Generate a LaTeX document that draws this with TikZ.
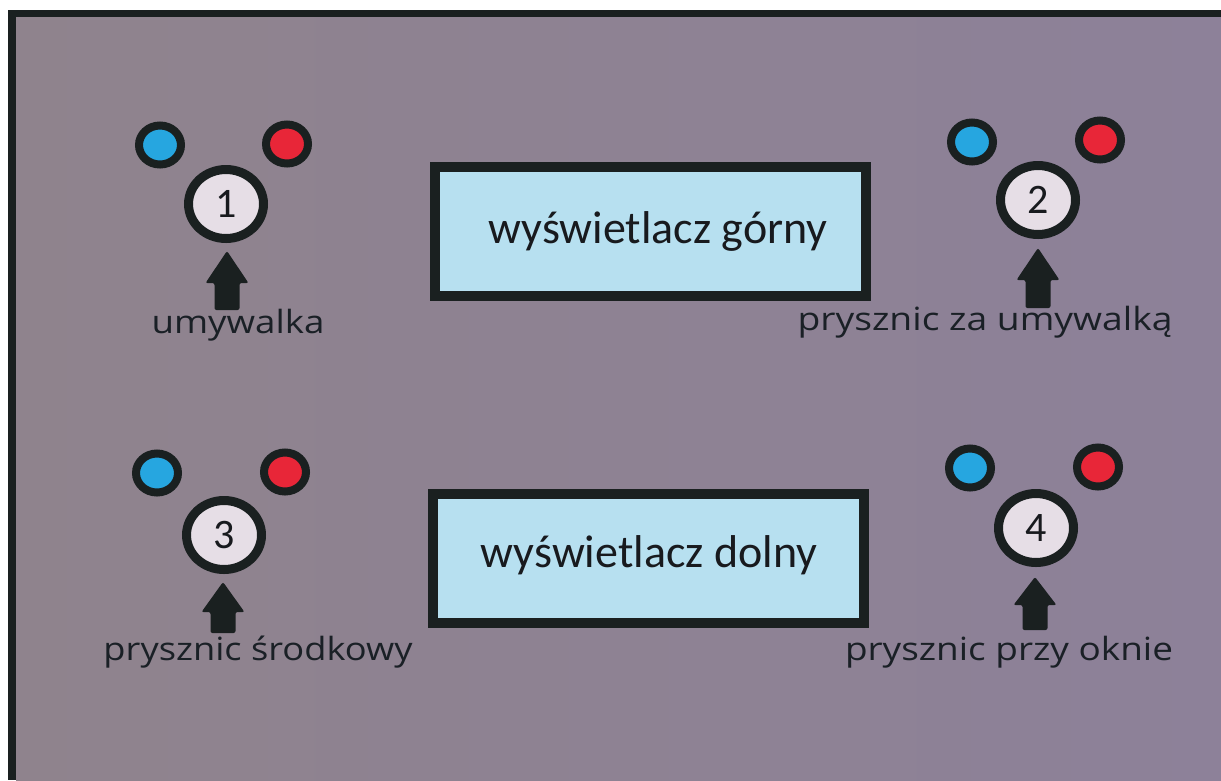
\documentclass[tikz,border=0pt]{standalone}
\usepackage{fontspec}
\usepackage{graphicx}
\setmainfont{Carlito}
\newfontfamily\labfont{Open Sans}
\usetikzlibrary{shapes.geometric}
\definecolor{bgleft}{RGB}{143,131,141}
\definecolor{bgmid}{RGB}{139,132,152}
\definecolor{bgright}{RGB}{141,129,153}
\definecolor{framecol}{RGB}{26,32,32}
\definecolor{boxfill}{RGB}{183,224,240}
\definecolor{coldcol}{RGB}{38,166,224}
\definecolor{hotcol}{RGB}{232,38,56}
\definecolor{knobfill}{RGB}{230,222,230}
\definecolor{txtcol}{RGB}{24,26,30}
\definecolor{labcol}{RGB}{26,32,38}
\tikzset{
  dot/.style={ellipse, draw=framecol, line width=8pt, minimum width=42pt, minimum height=39pt, inner sep=0pt},
  colddot/.style={dot, fill=coldcol},
  hotdot/.style={dot, fill=hotcol},
  knob/.style={ellipse, draw=framecol, line width=9pt, fill=knobfill, minimum width=75pt, minimum height=69pt, inner sep=0pt, text=txtcol, font=\fontsize{42}{50}\selectfont},
  display/.style={rectangle, draw=framecol, line width=10pt, fill=boxfill, minimum width=431pt, minimum height=129pt, inner sep=0pt},
  disptext/.style={anchor=base, inner sep=0pt, text=txtcol, font=\fontsize{46}{55}\selectfont},
  labtext/.style={anchor=base, inner sep=0pt, text=labcol, font=\labfont\fontsize{32}{38}\selectfont},
  arrowfill/.style={fill=framecol, rounded corners=2pt}
}
% #1 target width, #2 text: stretch horizontally, keep height
\newcommand\FitLab[2]{\resizebox{#1}{\height}{#2}}
% #1 tip coordinate, #2 head length, #3 total length
\newcommand\UpArrowShape[3]{%
  \fill[arrowfill] (#1) -- ++(21.5,#2) -- ++(-9,0) -- ++(0,#3-#2) -- ++(-25,0) -- ++(0,-#3+#2) -- ++(-9,0) -- cycle;}
\begin{document}
\begin{tikzpicture}[x=1pt,y=-1pt]
\useasboundingbox (0,0) rectangle (1221,780);
\fill[white] (0,0) rectangle (1221,780);
\fill[framecol] (8,10) rectangle (1221,780);
\shade[left color=bgleft, middle color=bgmid, right color=bgright] (16,17) rectangle (1221,780);

% group 1
\node[colddot] (b1) at (160,145) {};
\node[hotdot] (r1) at (287,144) {};
\node[knob] (k1) at (226,204) {1};
\node[labtext] (l1) at (238,333) {\FitLab{173pt}{umywalka}};
\coordinate (t1) at (227,251);
\UpArrowShape{t1}{32}{59}

% group 2
\node[colddot] (b2) at (972,142) {};
\node[hotdot] (r2) at (1100,140) {};
\node[knob] (k2) at (1038,200) {2};
\node[labtext] (l2) at (985,330) {\FitLab{375pt}{prysznic za umywalką}};
\coordinate (t2) at (1038,248);
\UpArrowShape{t2}{32}{60}

% group 3
\node[colddot] (b3) at (157,473) {};
\node[hotdot] (r3) at (285,472) {};
\node[knob] (k3) at (224,535) {3};
\node[labtext] (l3) at (258,660) {\FitLab{309pt}{prysznic środkowy}};
\coordinate (t3) at (223,582);
\UpArrowShape{t3}{30}{51}

% group 4
\node[colddot] (b4) at (970,468) {};
\node[hotdot] (r4) at (1098,467) {};
\node[knob] (k4) at (1036,528) {4};
\node[labtext] (l4) at (1009,660) {\FitLab{328pt}{prysznic przy oknie}};
\coordinate (t4) at (1035,577);
\UpArrowShape{t4}{28}{53}

% displays
\node[display] (d1) at (650.5,231.5) {};
\node[disptext] (d1t) at (658,243) {wyświetlacz górny};
\node[display] (d2) at (648,558.5) {};
\node[disptext] (d2t) at (649,567) {wyświetlacz dolny};
\end{tikzpicture}
\end{document}
